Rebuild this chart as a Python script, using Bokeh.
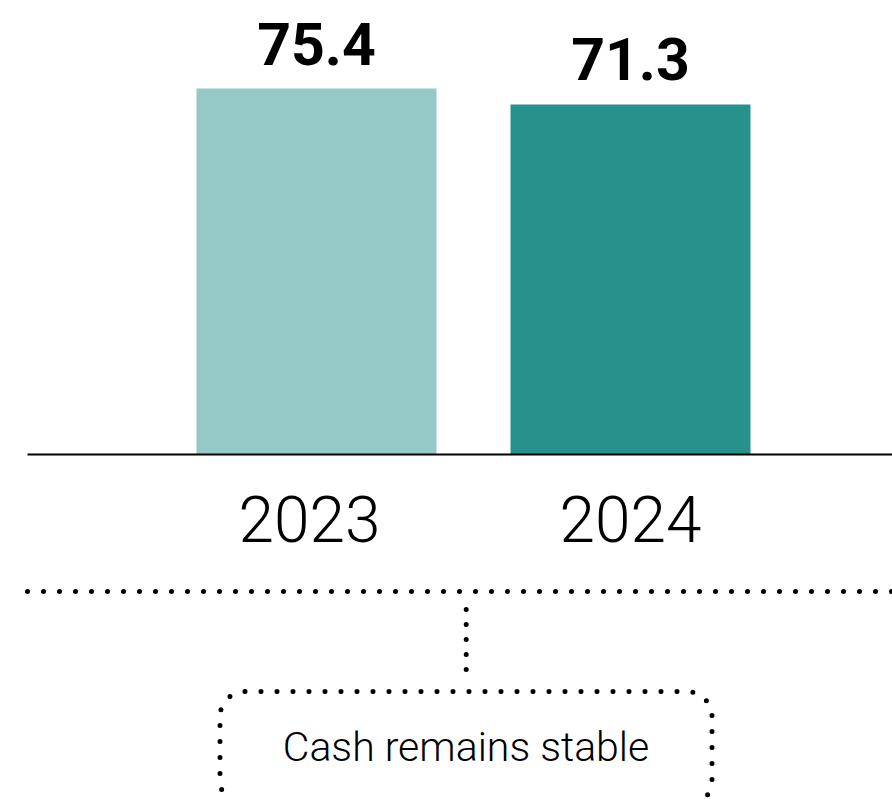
from bokeh.plotting import figure
from bokeh.models import Range1d, BoxAnnotation, ColumnDataSource
from bokeh.core.properties import value
from bokeh.embed import file_html
from bokeh.resources import INLINE

# ---- data ----
years = ["2023", "2024"]
cash = [75.4, 71.3]
labels = ["75.4", "71.3"]
colors = ["#94C9C5", "#26928B"]
note = "Cash remains stable"

# ---- layout constants (pixels) ----
W, H = 892, 799
X0_PX, STEP_PX = 316.0, 314.0      # centre of first bar, spacing between bars
BAR_W_PX = 240.0
BASE_PX = 454.0                    # y (from top) of the axis line
PX_PER_UNIT = 3.9024
Y_FLOOR = 75.4 - (BASE_PX - 88.0) / PX_PER_UNIT   # value at the axis line
year_dx = [-7, 0]

def xv(px):
    return (px - X0_PX) / STEP_PX

def yv(py):
    return Y_FLOOR + (BASE_PX - py) / PX_PER_UNIT

p = figure(width=W, height=H, output_backend="svg", toolbar_location=None,
           x_range=Range1d(xv(0), xv(W)), y_range=Range1d(yv(H), yv(0)),
           min_border=0, min_border_left=0, min_border_right=0,
           min_border_top=0, min_border_bottom=0)
p.xaxis.visible = False
p.yaxis.visible = False
p.xgrid.visible = False
p.ygrid.visible = False
p.outline_line_color = None
p.background_fill_color = "white"
p.border_fill_color = "white"

idx = list(range(len(years)))
src = ColumnDataSource(dict(x=idx, top=cash, lab=labels, year=years,
                            color=colors, dx=year_dx))

p.vbar(x="x", top="top", bottom=Y_FLOOR, width=BAR_W_PX / STEP_PX,
       fill_color="color", line_color=None, source=src)

# axis line
p.segment(x0=[xv(27)], y0=[Y_FLOOR], x1=[xv(W + 10)], y1=[Y_FLOOR],
          line_color="black", line_width=2)

# value labels
p.text(x="x", y="top", text="lab", source=src, text_align="center",
       text_baseline="alphabetic", y_offset=-45,
       text_font=value("Roboto"), text_font_style="bold",
       text_font_size=value("59px"), text_color="black")

# year labels
p.text(x="x", y=Y_FLOOR, text="year", source=src, text_align="center",
       text_baseline="alphabetic", y_offset=64, x_offset="dx",
       text_font=value("Roboto Light"), text_font_size=value("64px"),
       text_color="black")

# dotted horizontal line
p.segment(x0=[xv(27)], y0=[yv(591)], x1=[xv(W + 10)], y1=[yv(591)],
          line_color="black", line_width=5, line_dash="0 16", line_cap="round")

# dotted vertical connector
p.segment(x0=[xv(465.7)], y0=[yv(609)], x1=[xv(465.7)], y1=[yv(670)],
          line_color="black", line_width=5, line_dash="0 15", line_cap="round")

# rounded dotted box
box = BoxAnnotation(left=xv(219.5), right=xv(711.5), top=yv(691), bottom=yv(805),
                    fill_color=None, fill_alpha=0, line_color="black",
                    line_alpha=1.0, line_width=5,
                    line_dash="0 16", line_cap="round", border_radius=25)
p.add_layout(box)

p.text(x=[xv(465.5)], y=[yv(746)], text=[note], text_align="center",
       text_baseline="alphabetic", text_font=value("Roboto Light"),
       text_font_size=value("41px"), text_color="black")

open("out.html", "w").write(file_html(p, INLINE))
